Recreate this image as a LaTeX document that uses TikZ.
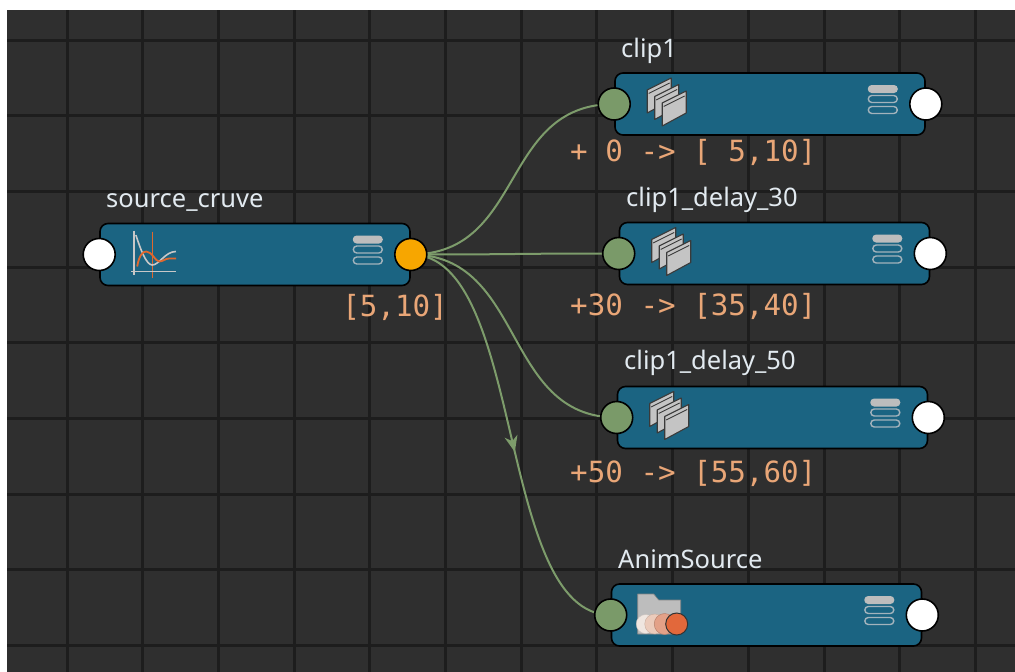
\documentclass[tikz,border=0pt]{standalone}
\usepackage{fontspec}
\usetikzlibrary{arrows.meta,decorations.markings}
\newfontfamily\lblfont{Noto Sans}
\newfontfamily\monofont{DejaVu Sans Mono}
\definecolor{bgdark}{HTML}{2F2F2F}
\definecolor{gridline}{HTML}{1D1D1D}
\definecolor{nodeblue}{HTML}{1B6482}
\definecolor{portgreen}{HTML}{7A9A69}
\definecolor{edgegreen}{HTML}{7D9C6B}
\definecolor{portorange}{HTML}{F7A600}
\definecolor{valorange}{HTML}{E9A677}
\definecolor{lbltext}{HTML}{E2EAF0}
\definecolor{pagegray}{HTML}{C4C4C4}
\definecolor{pageedge}{HTML}{3A3A3A}
\definecolor{menugray}{HTML}{BDBDBD}
\definecolor{menuline}{HTML}{A3B3BC}
\definecolor{axisgray}{HTML}{C8C8C8}
\definecolor{curveorange}{HTML}{E0682E}
\definecolor{foldergray}{HTML}{BDBDBD}
\definecolor{dotA}{HTML}{EFE6E0}
\definecolor{dotB}{HTML}{EBCBBB}
\definecolor{dotC}{HTML}{E3A188}
\definecolor{dotD}{HTML}{E2683B}
\pgfdeclarelayer{gridlayer}
\pgfdeclarelayer{edgelayer}
\pgfsetlayers{gridlayer,edgelayer,main}
\tikzset{
  box/.style={draw=black, line width=1.6pt, fill=nodeblue, rounded corners=8pt,
    minimum width=310pt, minimum height=62pt, inner sep=0pt},
  portbase/.style={circle, draw=black, line width=1.6pt, minimum size=32pt, inner sep=0pt},
  portin/.style={portbase, fill=portgreen},
  portwhite/.style={portbase, fill=white},
  portorg/.style={portbase, fill=portorange},
  lbl/.style={text=lbltext, font=\lblfont\fontsize{25.5}{30}\selectfont, anchor=base west, inner sep=0pt},
  val/.style={text=valorange, font=\monofont\fontsize{29.2}{33}\selectfont, inner sep=0pt},
  link/.style={edgegreen, line width=2pt},
  gridrule/.style={gridline, line width=3pt},
  menuicon/.pic={
    \fill[menugray, rounded corners=3.8pt] (-58,-19) rectangle (-28,-11);
    \draw[menuline, line width=1.4pt, rounded corners=3.5pt] (-57.5,-8.5) rectangle (-28.5,-1.5);
    \draw[menuline, line width=1.4pt, rounded corners=3.5pt] (-57.5,2.5) rectangle (-28.5,9.5);
  },
  clipicon/.pic={
    \foreach \dx/\dy in {-15/-13,-7.5/-6.5,0/0}{
      \begin{scope}[shift={(\dx,\dy)}]
        \filldraw[fill=pagegray, draw=pageedge, line width=1.1pt, line join=round]
          (48,22) -- (48,-1) -- (72,-13) -- (72,9) -- cycle;
        \draw[pageedge, line width=0.9pt] (49.5,2.5) -- (70.5,-8);
      \end{scope}
    }
  },
  curveicon/.pic={
    \draw[curveorange, line width=0.8pt] (53.3,-23) -- (53.3,23);
    \draw[axisgray, line width=1.8pt] (35,-24) -- (35,20);
    \draw[axisgray, line width=1.8pt] (32,17) -- (77,17);
    \draw[axisgray, line width=1.6pt] (36.7,-19.5) .. controls (41,-6) and (47,10.5) .. (53,10.5)
      .. controls (60,10.5) and (66,-3) .. (76.7,-3);
    \draw[curveorange, line width=1.8pt] (38,12) .. controls (40,0) and (44,-3) .. (47,-3)
      .. controls (53,-3) and (56,7) .. (60,7) .. controls (64,7) and (66,4) .. (70,4)
      -- (77,4);
  },
  animicon/.pic={
    \filldraw[fill=foldergray, draw=foldergray!70!black, line width=0.6pt, line join=round]
      (27,-21) -- (43,-21) -- (48,-15) -- (70,-15) -- (70,19) -- (27,19) -- cycle;
    \filldraw[fill=dotA, draw=dotA!85!black, line width=0.4pt] (35,9) circle (9.5);
    \filldraw[fill=dotB, draw=dotB!85!black, line width=0.4pt] (44,9) circle (10);
    \filldraw[fill=dotC, draw=dotC!80!black, line width=0.5pt] (54,9) circle (10.5);
    \filldraw[fill=dotD, draw=black!80, line width=1pt] (66,9) circle (11);
  },
}
\begin{document}
\begin{tikzpicture}[x=1pt,y=-1pt]
\useasboundingbox (0,0) rectangle (1015,672);
\begin{pgfonlayer}{gridlayer}
  \fill[white] (0,0) rectangle (1015,672);
  \fill[bgdark] (7,10) rectangle (1015,672);
  \foreach \i in {0,...,12}{
    \draw[gridrule] ({67+75.7*\i},10) -- ({67+75.7*\i},672);
  }
  \foreach \j in {0,...,8}{
    \draw[gridrule] (7,{40+75.7*\j}) -- (1015,{40+75.7*\j});
  }
\end{pgfonlayer}

% node bodies
\node[box] (sc) at (255,254.5) {};
\node[box] (c1) at (770,104) {};
\node[box] (d30) at (774.5,253.5) {};
\node[box] (d50) at (772.5,417.5) {};
\node[box] (as) at (766.5,615) {};

% icons
\pic at (sc.west) {curveicon};
\pic at (c1.west) {clipicon};
\pic at (d30.west) {clipicon};
\pic at (d50.west) {clipicon};
\pic at (as.west) {animicon};
\foreach \n in {sc,c1,d30,d50,as}{
  \pic at (\n.east) {menuicon};
}

% ports
\node[portwhite] (scin) at (sc.west) {};
\node[portorg] (scout) at (sc.east) {};
\node[portin] (c1in) at (c1.west) {};
\node[portwhite] (c1out) at (c1.east) {};
\node[portin] (d30in) at (d30.west) {};
\node[portwhite] (d30out) at (d30.east) {};
\node[portin] (d50in) at (d50.west) {};
\node[portwhite] (d50out) at (d50.east) {};
\node[portin] (asin) at (as.west) {};
\node[portwhite] (asout) at (as.east) {};

% titles
\node[lbl] (sclbl) at (106,207.5) {source\_cruve};
\node[lbl] (c1lbl) at (621,57) {clip1};
\node[lbl] (d30lbl) at (626,206) {clip1\_delay\_30};
\node[lbl] (d50lbl) at (624,369) {clip1\_delay\_50};
\node[lbl] (aslbl) at (618,568) {AnimSource};

% values
\node[val, anchor=base east] (scval) at (448,316) {[5,10]};
\node[val, anchor=base west] (c1val) at (570,161) {+ 0 -> [ 5,10]};
\node[val, anchor=base west] (d30val) at (570,315) {+30 -> [35,40]};
\node[val, anchor=base west] (d50val) at (570,482) {+50 -> [55,60]};

% connectors
\begin{pgfonlayer}{edgelayer}
  \draw[link] (scout.center) .. controls +(115,0) and +(-115,0) .. (c1in.center);
  \draw[link] (scout.center) .. controls +(115,0) and +(-115,0) .. (d30in.center);
  \draw[link] (scout.center) .. controls +(115,0) and +(-115,0) .. (d50in.center);
  \draw[link, postaction={decorate}, decoration={markings,
      mark=at position 0.54 with {\arrow{Stealth[length=16pt,width=13pt,inset=5pt]}}}]
    (scout.center) .. controls +(115,0) and +(-115,0) .. (asin.center);
\end{pgfonlayer}
\end{tikzpicture}
\end{document}
